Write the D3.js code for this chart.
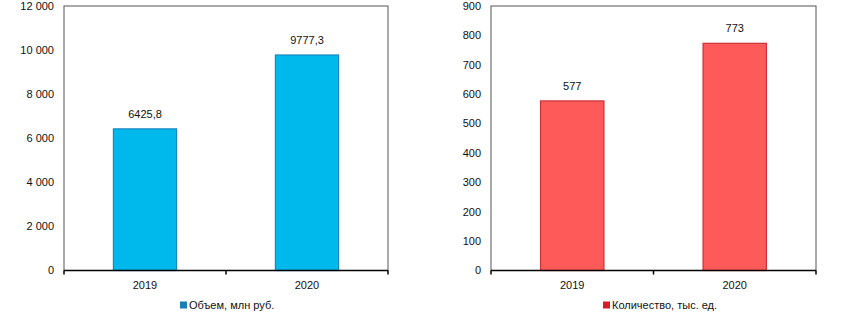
<!DOCTYPE html>
<html lang="ru">
<head>
<meta charset="utf-8">
<title>Объем и количество</title>
<style>
  body { margin: 0; background: #fff; }
  svg text { font-family: "Liberation Sans Narrow", "Liberation Sans", Arial, sans-serif; font-size: 11px; fill: #111; }
  .frame { fill: none; stroke: #555; stroke-width: 1; }
  .xaxis path, .xaxis line { stroke: #000; stroke-width: 1.5; }
</style>
</head>
<body>
<svg width="847" height="324"></svg>
<script src="https://cdn.jsdelivr.net/npm/d3@7/dist/d3.min.js"></script>
<script>
var years = ["2019", "2020"];
var volume = [6425.8, 9777.3];
var volumeTicks = [0, 2000, 4000, 6000, 8000, 10000, 12000];
var count = [577, 773];
var countTicks = [0, 100, 200, 300, 400, 500, 600, 700, 800, 900];

var svg = d3.select("svg");

var fmtSpace = function(v) { return d3.format(",")(v).replace(/,/g, " "); };
var fmtComma = function(v) { return String(v).replace(".", ","); };

function drawChart(opt) {
  var g = svg.append("g").attr("transform", "translate(" + opt.left + ",6)");
  var w = opt.width, h = 264.5;

  var x = d3.scaleBand().domain(years).range([0, w]).paddingInner(0.61).paddingOuter(0.305);
  var xTick = d3.scalePoint().domain(d3.range(years.length + 1)).range([0, w]);
  var y = d3.scaleLinear().domain([0, opt.max]).range([h, 0]);

  // plot frame
  g.append("rect").attr("class", "frame").attr("x", 0).attr("y", 0).attr("width", w).attr("height", h);

  // y labels
  g.selectAll(".ylab").data(opt.ticks).enter().append("text")
      .attr("x", -10).attr("y", function(d) { return y(d); })
      .attr("dy", "0.35em").attr("text-anchor", "end")
      .text(function(d) { return opt.tickFmt(d); });

  g.selectAll(".bar").data(opt.values).enter().append("rect")
      .attr("x", function(d, i) { return x(years[i]); })
      .attr("y", function(d) { return y(d); })
      .attr("width", x.bandwidth())
      .attr("height", function(d) { return h - y(d); })
      .attr("fill", opt.fill).attr("stroke", opt.stroke).attr("stroke-width", 1.2);

  g.selectAll(".val").data(opt.values).enter().append("text")
      .attr("x", function(d, i) { return x(years[i]) + x.bandwidth() / 2; })
      .attr("y", function(d) { return y(d) - 11; })
      .attr("text-anchor", "middle")
      .text(function(d) { return fmtComma(d); });

  // x axis line with ticks between categories
  var ax = g.append("g").attr("class", "xaxis");
  ax.append("line").attr("x1", 0).attr("x2", w).attr("y1", h).attr("y2", h);
  ax.selectAll(".tk").data(xTick.domain()).enter().append("line")
      .attr("x1", function(d) { return xTick(d); }).attr("x2", function(d) { return xTick(d); })
      .attr("y1", h).attr("y2", h + 4);

  g.selectAll(".xlab").data(years).enter().append("text")
      .attr("x", function(d) { return x(d) + x.bandwidth() / 2; })
      .attr("y", h + 18).attr("text-anchor", "middle")
      .text(function(d) { return d; });

  // legend
  var lg = g.append("g").attr("transform", "translate(" + opt.legendX + "," + (h + 35) + ")");
  lg.append("rect").attr("x", 0).attr("y", -4).attr("width", 7).attr("height", 7).attr("fill", opt.legendFill);
  lg.append("text").attr("x", 9).attr("y", 0).attr("dy", "0.35em").text(opt.legend);
}

drawChart({
  left: 64, width: 324, max: 12000, ticks: volumeTicks, values: volume,
  tickFmt: fmtSpace, fill: "#00b9ec", stroke: "#1a88bd", legendFill: "#1a7fb5",
  legendX: 116, legend: "Объем, млн руб."
});

drawChart({
  left: 491, width: 325, max: 900, ticks: countTicks, values: count,
  tickFmt: function(d) { return d; }, fill: "#ff5a5a", stroke: "#cc3036", legendFill: "#d41c2a",
  legendX: 112, legend: "Количество, тыс. ед."
});
</script>
</body>
</html>
